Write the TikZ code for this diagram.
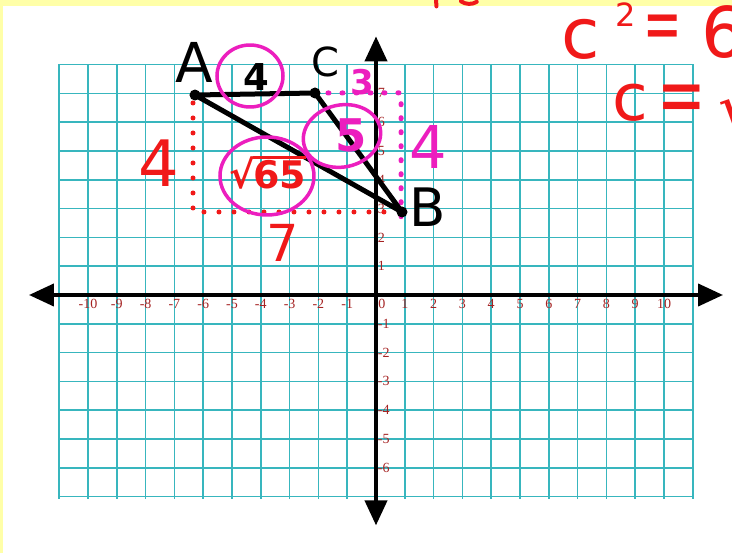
\documentclass[tikz,border=0pt]{standalone}
\usepackage{fontspec}
\setmainfont{Liberation Serif}
\newfontfamily\handfont{DejaVu Sans}
\usetikzlibrary{arrows.meta}
\definecolor{gridteal}{RGB}{56,182,190}
\definecolor{ticklab}{RGB}{165,35,35}
\definecolor{mkred}{RGB}{240,25,25}
\definecolor{mkpink}{RGB}{236,30,190}
\definecolor{bgyellow}{RGB}{255,255,168}
\newcommand{\hsz}[1]{\handfont\fontsize{#1}{#1}\selectfont}
\newcommand{\hszb}[1]{\handfont\bfseries\fontsize{#1}{#1}\selectfont}
\begin{document}
\begin{tikzpicture}[x=28.8pt,y=28.8pt,
  gridline/.style={gridteal, line width=1.7pt},
  axisline/.style={line width=4pt, black, {Triangle[length=25pt,width=22pt]}-{Triangle[length=25pt,width=22pt]}},
  triline/.style={line width=5pt, line cap=round, line join=round, black},
  dotline/.style={line width=5pt, line cap=round, dash pattern=on 0pt off 15pt},
  ring/.style={mkpink, line width=3.5pt},
  ticktext/.style={ticklab, font=\fontsize{14}{14}\selectfont, inner sep=0pt},
  hand/.style={inner sep=0pt, outer sep=0pt}]
\useasboundingbox (-13.0556,-8.9583) rectangle (12.3611,10.2431);
\clip (-13.0556,-8.9583) rectangle (12.3611,10.2431);
% background
\fill[bgyellow] (-13.0556,-8.9583) rectangle (12.3611,10.2431);
\fill[white] (-12.95,-8.9583) rectangle (12.3611,10.03);
% grid
\foreach \i in {-11,...,11} \draw[gridline] (\i,-7.08) -- (\i,8.03);
\foreach \j in {-7,...,8} \draw[gridline] (-11.03,\j) -- (11.03,\j);
% axes
\coordinate (xlo) at (-12.05,0);
\coordinate (xhi) at (12.05,0);
\coordinate (ylo) at (0,-8);
\coordinate (yhi) at (0,8.98);
\draw[axisline] (xlo) -- (xhi);
\draw[axisline] (ylo) -- (yhi);
% tick labels
\foreach \i in {-10,...,-1,1,2,...,10} \node[ticktext] (xt\i) at (\i,-0.3) {\i};
\node[ticktext] (xt0) at (0.2,-0.3) {0};
\foreach \j in {1,...,7,-1,-2,...,-6} \node[ticktext, anchor=west] (yt\j) at (0.06,\j) {\j};
% points
\coordinate (A) at (-6.285,6.944);
\coordinate (C) at (-2.118,7.014);
\coordinate (B) at (0.903,2.882);
\coordinate (P) at (0.87,7.02);
\coordinate (Pb) at (0.87,2.72);
\coordinate (R) at (-6.354,6.667);
\coordinate (Rc) at (-6.354,2.882);
\coordinate (Rb) at (0.59,2.882);
% red dotted legs
\draw[dotline, mkred] (R) -- (Rc) -- (Rb);
% pink dotted legs
\draw[dotline, mkpink, dash pattern=on 1pt off 13pt] (C) ++(0.45,0) -- (P) -- (Pb);
% triangle
\draw[triline] (A) -- (C) -- (B) -- cycle;
\fill (A) circle (5.5pt);
\fill (C) circle (5.5pt);
\fill (B) circle (5.5pt);
% circles
\draw[ring] (-4.375,7.604) ellipse [x radius=1.146, y radius=1.076];
\draw[ring, rotate around={12:(-1.181,5.521)}] (-1.181,5.521) ellipse [x radius=1.354, y radius=1.076];
\draw[ring] (-3.785,4.132) ellipse [x radius=1.632, y radius=1.354];
% vertex letters
\node[hand, font=\hsz{55}] (labA) at (-6.32,8.09) {A};
\node[hand, font=\hsz{40}] (labC) at (-1.771,8.09) {C};
\node[hand, font=\hsz{53}] (labB) at (1.806,3.056) {B};
% side lengths
\node[hand, font=\hszb{37}] (sAC) at (-4.167,7.569) {4};
\node[hand, font=\hszb{34}, mkpink] (s3) at (-0.486,7.396) {3};
\node[hand, font=\hsz{59}, mkpink] (s4p) at (1.806,5.139) {4};
\node[hand, font=\hszb{45}, mkpink] (s5) at (-0.868,5.556) {5};
\node[hand, font=\hsz{64}, mkred] (s4r) at (-7.535,4.583) {4};
\node[hand, font=\hsz{51}, mkred] (s7) at (-3.229,1.806) {7};
\node[hand, font=\hszb{38}, mkred] (s65) at (-3.75,4.25) {√\kern-0.04em\vbox{\hrule height 3pt\kern 2pt\hbox{65}}};
% top right work
\node[hand, font=\hsz{70}, mkred] (c1) at (7.118,8.889) {c};
\node[hand, font=\hsz{32}, mkred] (sq) at (8.68,9.75) {2};
\node[hand, font=\hsz{46}, mkred] (eq1) at (9.965,9.097) {\scalebox{1}[1.7]{=}};
\node[hand, font=\hsz{70}, mkred, anchor=west] (v1) at (11.3,9.13) {65};
\node[hand, font=\hsz{65}, mkred] (c2) at (8.82,6.667) {c};
\node[hand, font=\hsz{58}, mkred] (eq2) at (10.625,6.597) {\scalebox{1}[1.5]{=}};
\node[hand, font=\hsz{65}, mkred, anchor=west] (v2) at (11.9,6.6) {√65};
% cut-off marks at top
\draw[mkred, line width=4pt, line cap=round] (2.08,10.3) -- (2.1,10.02);
\draw[mkred, line width=4pt, line cap=round] (2.95,10.2) .. controls (3.1,10.08) and (3.35,10.08) .. (3.5,10.18);
\end{tikzpicture}
\end{document}
